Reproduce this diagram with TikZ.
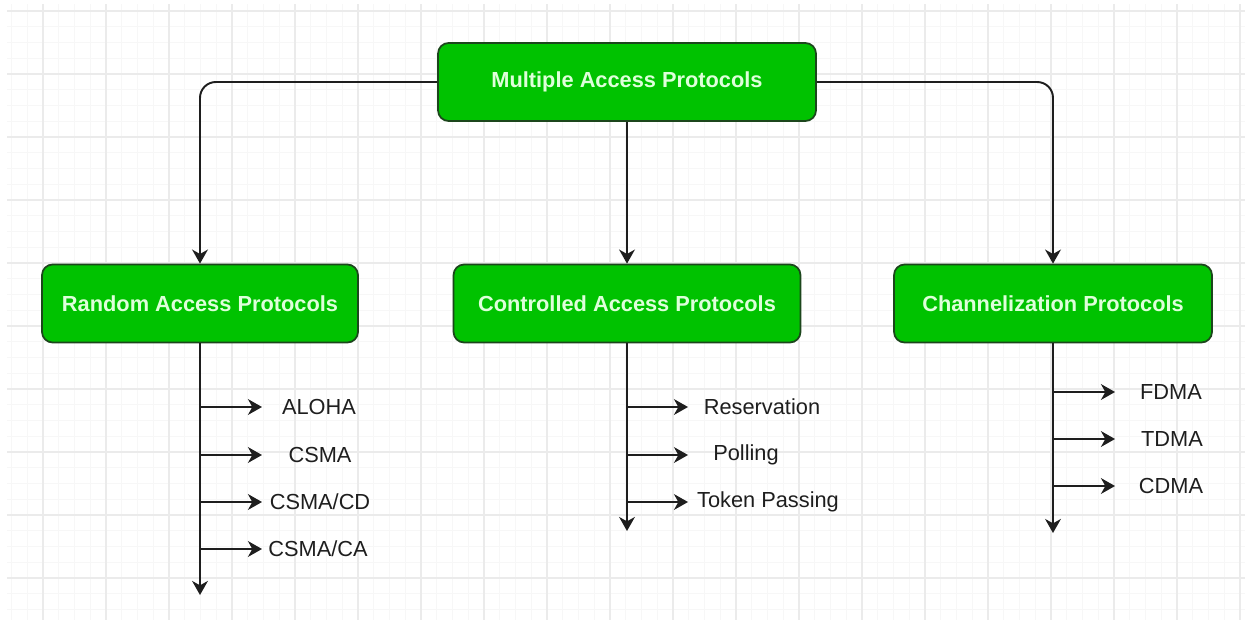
\documentclass[tikz,border=0pt]{standalone}
\usepackage{fontspec}
\setmainfont{Liberation Sans}
\usetikzlibrary{arrows.meta}

\definecolor{boxgreen}{RGB}{0,194,0}
\definecolor{boxline}{RGB}{28,70,28}
\definecolor{boxtext}{RGB}{222,255,218}
\definecolor{inkgray}{RGB}{30,30,30}

\begin{document}
\begin{tikzpicture}[x=0.02cm,y=-0.02cm,
  box/.style={draw=boxline,line width=1pt,fill=boxgreen,rounded corners=6pt,text=boxtext,
    font=\fontsize{12.4}{15}\selectfont\bfseries,minimum height=1.56cm},
  item/.style={font=\fontsize{12.4}{15}\selectfont,text=inkgray},
  arr/.style={-{Stealth[length=8pt,width=9pt,inset=2.5pt]},line width=1.1pt,inkgray},
  gridminor/.style={black!3,line width=0.4pt},
  gridmajor/.style={black!8,line width=0.6pt}]
\useasboundingbox (0,0) rectangle (1251,623);

% background grid
\foreach \k in {-2,...,76} \draw[gridminor] ({43+15.75*\k},4) -- ({43+15.75*\k},620);
\foreach \k in {0,...,38} \draw[gridminor] (7,{11+15.75*\k}) -- (1245,{11+15.75*\k});
\foreach \k in {0,...,19} \draw[gridmajor] ({43+63*\k},4) -- ({43+63*\k},620);
\foreach \k in {0,...,9} \draw[gridmajor] (7,{11+63*\k}) -- (1245,{11+63*\k});

% boxes
\node[box,minimum width=7.56cm] (multiple) at (627,82) {Multiple Access Protocols};
\node[box,minimum width=6.32cm] (random) at (200,303.5) {Random Access Protocols};
\node[box,minimum width=6.94cm] (controlled) at (627,303.5) {Controlled Access Protocols};
\node[box,minimum width=6.36cm] (channel) at (1053,303.5) {Channelization Protocols};

\draw[arr,rounded corners=9pt] (multiple.west) -| (random.north);
\draw[arr] (multiple.south) -- (controlled.north);
\draw[arr,rounded corners=9pt] (multiple.east) -| (channel.north);

% random access
\coordinate (randend) at (200,595);
\node[item] (aloha) at (319,407) {ALOHA};
\node[item] (csma) at (320,455) {CSMA};
\node[item] (csmacd) at (320,502) {CSMA/CD};
\node[item] (csmaca) at (318,549) {CSMA/CA};
\draw[arr] (random.south) -- (randend);
\draw[arr] (random.south |- aloha) -- ++(62,0);
\draw[arr] (random.south |- csma) -- ++(62,0);
\draw[arr] (random.south |- csmacd) -- ++(62,0);
\draw[arr] (random.south |- csmaca) -- ++(62,0);

% controlled access
\coordinate (contend) at (627,531);
\node[item] (reserv) at (762,407) {Reservation};
\node[item] (polling) at (746,455) {Polling};
\node[item] (token) at (768,502) {Token Passing};
\draw[arr] (controlled.south) -- (contend);
\draw[arr] (controlled.south |- reserv) -- ++(61,0);
\draw[arr] (controlled.south |- polling) -- ++(61,0);
\draw[arr] (controlled.south |- token) -- ++(61,0);

% channelization
\coordinate (chanend) at (1053,533);
\node[item] (fdma) at (1171,392) {FDMA};
\node[item] (tdma) at (1172,439) {TDMA};
\node[item] (cdma) at (1171,486) {CDMA};
\draw[arr] (channel.south) -- (chanend);
\draw[arr] (channel.south |- fdma) -- ++(62,0);
\draw[arr] (channel.south |- tdma) -- ++(62,0);
\draw[arr] (channel.south |- cdma) -- ++(62,0);
\end{tikzpicture}
\end{document}
